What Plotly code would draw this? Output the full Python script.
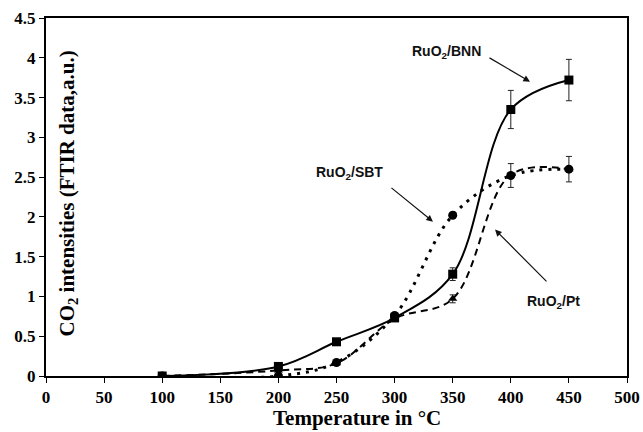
import plotly.graph_objects as go

temps = [100, 200, 250, 300, 350, 400, 450]
bnn = [0.0, 0.12, 0.43, 0.73, 1.28, 3.35, 3.72]
bnn_err = [0, 0, 0, 0, 0.08, 0.24, 0.26]
sbt = [0.0, 0.0, 0.17, 0.76, 2.02, 2.52, 2.60]
sbt_err = [0, 0, 0, 0, 0, 0.15, 0.16]
pt = [0.0, 0.07, 0.16, 0.72, 0.97, 2.53, 2.60]
pt_err = [0, 0, 0, 0, 0.05, 0, 0]

x_ticks = list(range(0, 501, 50))
y_ticks = [0, 0.5, 1, 1.5, 2, 2.5, 3, 3.5, 4, 4.5]
y_tick_labels = ["0", "0.5", "1", "1.5", "2", "2.5", "3", "3.5", "4", "4.5"]

fig = go.Figure()

def err(vals):
    return dict(type="data", array=vals, visible=True, color="#222", thickness=1, width=3)

fig.add_trace(go.Scatter(
    x=temps, y=pt, mode="lines+markers", name="RuO2/Pt",
    line=dict(color="black", width=2, dash="7px,5px", shape="spline", smoothing=1),
    marker=dict(symbol="triangle-up", size=8, color="black"),
    error_y=err(pt_err)))
fig.add_trace(go.Scatter(
    x=temps, y=sbt, mode="lines+markers", name="RuO2/SBT",
    line=dict(color="black", width=3, dash="3px,6px", shape="spline", smoothing=1),
    marker=dict(symbol="circle", size=9, color="black"),
    error_y=err(sbt_err)))
fig.add_trace(go.Scatter(
    x=temps, y=bnn, mode="lines+markers", name="RuO2/BNN",
    line=dict(color="black", width=2, shape="spline", smoothing=1),
    marker=dict(symbol="square", size=9, color="black"),
    error_y=err(bnn_err)))

lab_font = dict(family="Liberation Sans", size=14, color="#111", weight="bold")
ann = []
def label(text, x, y):
    ann.append(dict(x=x, y=y, xref="x", yref="y", text=text, showarrow=False, font=lab_font))
def arrow(x, y, ax, ay):
    ann.append(dict(x=x, y=y, ax=ax, ay=ay, xref="x", yref="y", axref="x", ayref="y",
                    text="", showarrow=True, arrowhead=2, arrowsize=1.1, arrowwidth=1.2,
                    arrowcolor="#111"))

label("RuO<sub>2</sub>/BNN", 345, 4.07)
arrow(416.5, 3.70, 380.4, 4.01)
label("RuO<sub>2</sub>/SBT", 261, 2.55)
arrow(333, 1.94, 296, 2.38)
label("RuO<sub>2</sub>/Pt", 437, 0.93)
arrow(386.4, 1.84, 432, 1.17)

# axis titles placed as in the reference (y title sits inside the frame)
ann.append(dict(x=0.038, y=0.51, xref="paper", yref="paper", xanchor="center", yanchor="middle",
                text="CO<sub>2</sub> intensities (FTIR data,a.u.)", textangle=-90,
                showarrow=False,
                font=dict(family="Liberation Serif", size=21, color="black", weight="bold")))
ann.append(dict(x=0.535, y=-0.118, xref="paper", yref="paper", xanchor="center", yanchor="middle",
                text="Temperature in °C", showarrow=False,
                font=dict(family="Liberation Serif", size=21, color="black", weight="bold")))

tick_font = dict(family="Liberation Serif", size=17, color="black", weight="bold")

fig.update_layout(
    width=643, height=432,
    margin=dict(l=46, r=16, t=18, b=56),
    paper_bgcolor="white", plot_bgcolor="white",
    showlegend=False,
    annotations=ann,
    xaxis=dict(range=[0, 500], tickvals=x_ticks, ticks="outside", ticklen=5,
               tickcolor="black", showline=True, linecolor="black", linewidth=2,
               mirror=True, showgrid=False, zeroline=False, tickfont=tick_font,
               automargin=False),
    yaxis=dict(range=[0, 4.5], tickvals=y_ticks, ticktext=y_tick_labels,
               ticks="outside", ticklen=5, tickcolor="black", showline=True,
               linecolor="black", linewidth=2, mirror=True, showgrid=False,
               zeroline=False, tickfont=tick_font, automargin=False),
)

fig.write_html("out.html", config={"displayModeBar": False},
               post_script="document.body.style.margin='0';document.body.style.overflow='hidden';")
